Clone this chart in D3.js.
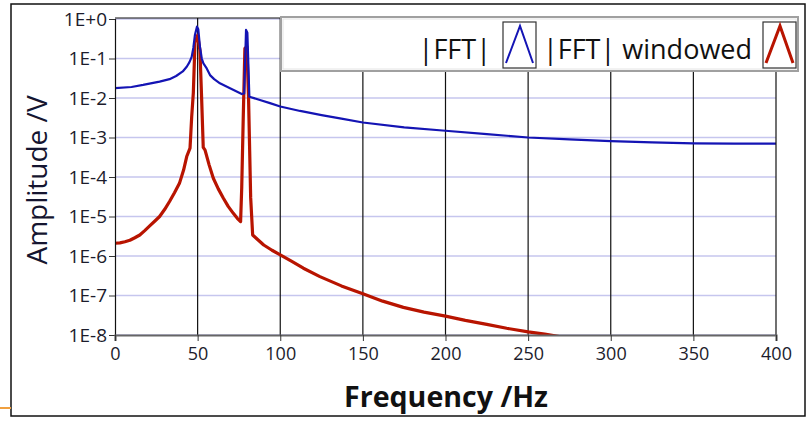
<!DOCTYPE html>
<html>
<head>
<meta charset="utf-8">
<script src="https://cdn.jsdelivr.net/npm/d3@7"></script>
<style>
  html, body { margin: 0; padding: 0; background: #ffffff; }
  svg { display: block; }
  text { font-family: "Open Sans", "Noto Sans", sans-serif; }
</style>
</head>
<body>
<svg id="chart" width="810" height="421"></svg>
<script>
// ---------- data ----------
const xTicks = [0, 50, 100, 150, 200, 250, 300, 350, 400];
const yTicks = [1, 1e-1, 1e-2, 1e-3, 1e-4, 1e-5, 1e-6, 1e-7, 1e-8];
const yTickLabels = ["1E+0", "1E-1", "1E-2", "1E-3", "1E-4", "1E-5", "1E-6", "1E-7", "1E-8"];
const seriesNames = ["|FFT|", "|FFT| windowed"];

// |FFT| (rectangular window)
const fftFreq = [0, 10, 17, 27, 33, 37, 41, 43.4, 45, 46.4, 47.4, 48.4, 49.6, 50.4, 51.4, 52.5, 53.5, 55.5, 57.5, 60, 63.5, 69.6, 76.7, 78.2, 79.3, 80.1, 81.3, 87.7, 93.8, 100, 112, 125, 137, 150, 175, 200, 225, 250, 275, 300, 325, 350, 375, 400];
const fftAmp  = [0.0178, 0.019, 0.0214, 0.026, 0.03, 0.036, 0.047, 0.062, 0.08, 0.11, 0.185, 0.4, 0.64, 0.55, 0.2, 0.1, 0.075, 0.056, 0.038, 0.03, 0.0235, 0.0177, 0.0126, 0.013, 0.53, 0.45, 0.0108, 0.0089, 0.0074, 0.0061, 0.0047, 0.0037, 0.003, 0.0024, 0.0018, 0.00148, 0.00122, 0.001, 0.0009, 0.00081, 0.00075, 0.00071, 0.0007, 0.0007];

// |FFT| windowed
const winFreq = [0, 3, 6, 9, 12, 15, 18, 21, 24, 27, 30, 33, 36, 39, 41.5, 43.4, 45.4, 46.4, 47.4, 48.4, 50, 51.4, 52.4, 53.4, 54.5, 57, 59.5, 62.5, 65.6, 68.5, 71.6, 74, 76, 76.7, 77.6, 78.6, 79.8, 80.8, 82.1, 83.3, 90, 95, 100, 107, 114, 124, 137, 150, 162, 174.5, 187, 200, 212, 225, 237, 250, 260, 269, 280, 300, 350, 400];
const winAmp  = [2.1e-6, 2.15e-6, 2.3e-6, 2.5e-6, 2.9e-6, 3.4e-6, 4.4e-6, 5.8e-6, 7.6e-6, 1.0e-5, 1.5e-5, 2.4e-5, 4.0e-5, 6.9e-5, 1.5e-4, 3.3e-4, 5.4e-4, 3.3e-3, 1.35e-2, 0.25, 0.39, 0.16, 1.05e-2, 5.6e-4, 4.8e-4, 2.0e-4, 9.3e-5, 5.0e-5, 2.9e-5, 1.8e-5, 1.2e-5, 9.0e-6, 7.4e-6, 5.6e-5, 3.1e-3, 0.18, 0.2, 1.07e-2, 3.0e-5, 3.4e-6, 1.9e-6, 1.4e-6, 1.07e-6, 7.3e-7, 4.9e-7, 3.0e-7, 1.75e-7, 1.1e-7, 7.2e-8, 5.0e-8, 3.8e-8, 3.0e-8, 2.35e-8, 1.86e-8, 1.48e-8, 1.2e-8, 1.05e-8, 9.1e-9, 7.5e-9, 5.5e-9, 3.0e-9, 2.0e-9];

// ---------- layout ----------
const svg = d3.select("#chart");
const plot = { left: 115, right: 776, top: 18, bottom: 335 };
const blue = "#1414b4";
const red = "#b81400";

const x = d3.scaleLinear().domain([0, 400]).range([plot.left, plot.right]);
const y = d3.scaleLog().domain([1e-8, 1]).range([plot.bottom, 19]);

// outer frame
svg.append("rect").attr("x", 11).attr("y", 4).attr("width", 794).attr("height", 412)
  .attr("fill", "#fff").attr("stroke", "#111").attr("stroke-width", 1.5);
// small orange mark bottom-left
svg.append("line").attr("x1", 0).attr("x2", 11).attr("y1", 408).attr("y2", 408)
  .attr("stroke", "#f0a040").attr("stroke-width", 2);

// plot background
svg.append("rect").attr("x", plot.left).attr("y", plot.top)
  .attr("width", plot.right - plot.left).attr("height", plot.bottom - plot.top)
  .attr("fill", "#fff");

// horizontal grid (lavender)
svg.append("g").selectAll("line").data(yTicks).join("line")
  .attr("x1", plot.left).attr("x2", plot.right)
  .attr("y1", d => y(d)).attr("y2", d => y(d))
  .attr("stroke", "#c6c6ee").attr("stroke-width", 1.5);

// vertical grid (black)
svg.append("g").selectAll("line").data(xTicks.slice(1, -1)).join("line")
  .attr("x1", d => x(d)).attr("x2", d => x(d))
  .attr("y1", plot.top).attr("y2", plot.bottom)
  .attr("stroke", "#111").attr("stroke-width", 1.2);

// clip
svg.append("clipPath").attr("id", "clip").append("rect")
  .attr("x", plot.left).attr("y", plot.top)
  .attr("width", plot.right - plot.left).attr("height", plot.bottom - plot.top);

const line = d3.line().x(d => x(d[0])).y(d => y(d[1]));

svg.append("path").attr("clip-path", "url(#clip)")
  .datum(winFreq.map((f, i) => [f, winAmp[i]]))
  .attr("d", line).attr("fill", "none").attr("stroke", red)
  .attr("stroke-width", 3.2).attr("stroke-linejoin", "round");

svg.append("path").attr("clip-path", "url(#clip)")
  .datum(fftFreq.map((f, i) => [f, fftAmp[i]]))
  .attr("d", line).attr("fill", "none").attr("stroke", blue)
  .attr("stroke-width", 2.2).attr("stroke-linejoin", "round");

// plot border
svg.append("line").attr("x1", plot.left).attr("x2", plot.right).attr("y1", plot.top).attr("y2", plot.top)
  .attr("stroke", "#111").attr("stroke-width", 1.2);
svg.append("line").attr("x1", plot.right).attr("x2", plot.right).attr("y1", plot.top).attr("y2", plot.bottom)
  .attr("stroke", "#111").attr("stroke-width", 1.2);

// axes
const yAxis = d3.axisLeft(y).tickValues(yTicks).tickFormat((d, i) => yTickLabels[i]).tickSize(6).tickPadding(2);
const gy = svg.append("g").attr("transform", `translate(${plot.left},0)`).call(yAxis);
gy.select(".domain").attr("stroke", "#111").attr("stroke-width", 1.2);
gy.selectAll(".tick line").attr("stroke", "#333");
gy.selectAll(".tick text").attr("font-size", 19).attr("fill", "#1c1c2c")
  .attr("font-family", "'Open Sans', sans-serif");

const xAxis = d3.axisBottom(x).tickValues(xTicks).tickSize(6).tickPadding(6);
const gx = svg.append("g").attr("transform", `translate(0,${plot.bottom})`).call(xAxis);
gx.select(".domain").attr("stroke", "#666").attr("stroke-width", 2.2);
gx.selectAll(".tick line").attr("stroke", "#333");
gx.selectAll(".tick text").attr("font-size", 18).attr("fill", "#1c1c2c")
  .attr("font-family", "'Open Sans', sans-serif");

// axis titles
svg.append("text").attr("transform", "translate(47,180) rotate(-90)")
  .attr("text-anchor", "middle").attr("font-size", 28).attr("fill", "#151530")
  .text("Amplitude /V");
svg.append("text").attr("x", 446).attr("y", 407)
  .attr("text-anchor", "middle").attr("font-size", 28).attr("font-weight", "bold").attr("fill", "#111")
  .attr("textLength", 204).attr("lengthAdjust", "spacingAndGlyphs")
  .text("Frequency /Hz");

// legend
const lg = svg.append("g");
lg.append("rect").attr("x", 281).attr("y", 17).attr("width", 517).attr("height", 54)
  .attr("fill", "#fff").attr("stroke", "#a0a0a0").attr("stroke-width", 2);
lg.append("rect").attr("x", 283).attr("y", 19).attr("width", 513).attr("height", 50)
  .attr("fill", "none").attr("stroke", "#e4e4e4").attr("stroke-width", 1);

const legendItems = [
  { name: seriesNames[0], textRight: 491, box: 503, color: blue, w: 2 },
  { name: seriesNames[1], textRight: 752, box: 763, color: red, w: 3 }
];
legendItems.forEach(it => {
  lg.append("text").attr("x", it.textRight).attr("y", 59)
    .attr("text-anchor", "end").attr("font-size", 27).attr("fill", "#111")
    .text(it.name);
  lg.append("rect").attr("x", it.box).attr("y", 22).attr("width", 33).attr("height", 46)
    .attr("fill", "#fff").attr("stroke", "#333").attr("stroke-width", 1.2);
  lg.append("path").attr("d", `M${it.box + 3},${63} L${it.box + 17},${26} L${it.box + 30},${63}`)
    .attr("fill", "none").attr("stroke", it.color).attr("stroke-width", it.w);
});
</script>
</body>
</html>
